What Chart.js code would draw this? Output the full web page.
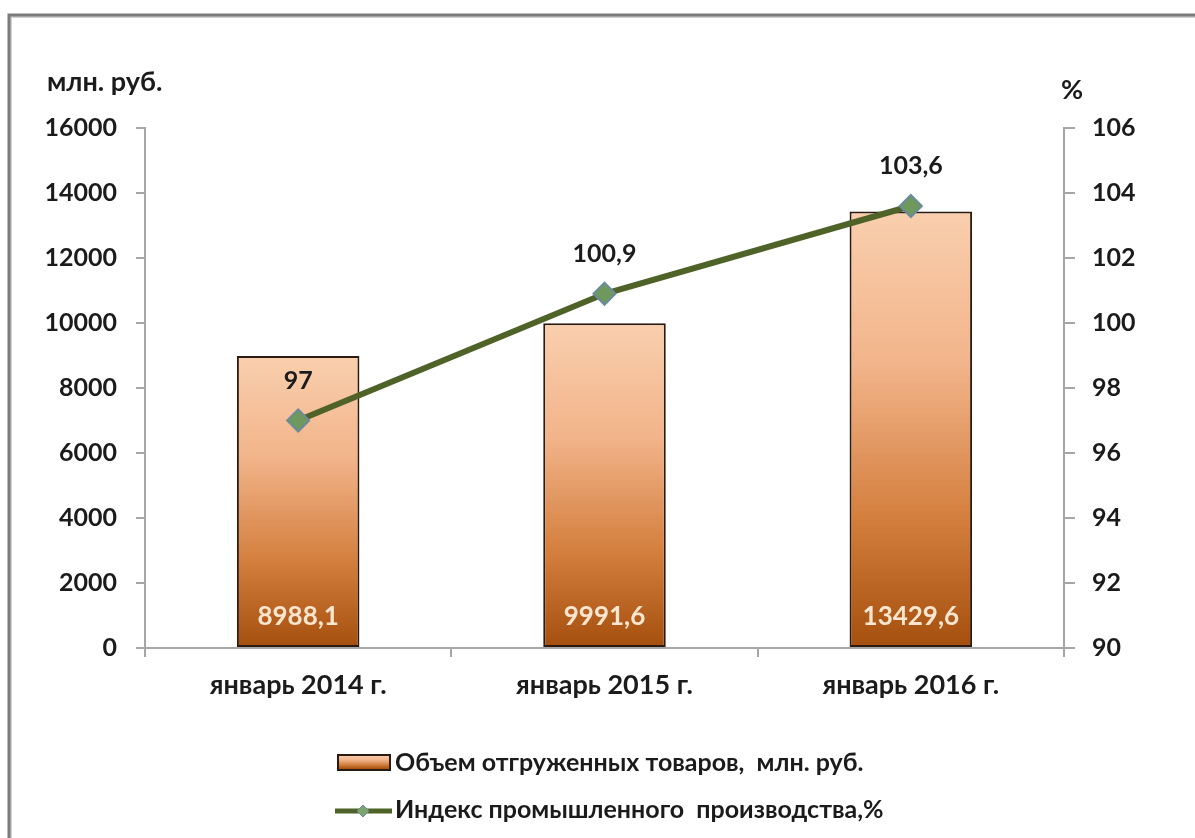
<!DOCTYPE html>
<html lang="ru">
<head>
<meta charset="utf-8">
<script src="https://cdn.jsdelivr.net/npm/chart.js@4.4.1/dist/chart.umd.min.js"></script>
<style>
  html, body { margin: 0; padding: 0; background: #fff; }
  canvas { display: block; }
</style>
</head>
<body>
<canvas id="c" width="1195" height="838"></canvas>
<script>
// Data
const categories = ['январь 2014 г.', 'январь 2015 г.', 'январь 2016 г.'];
const shipments = [8988.1, 9991.6, 13429.6];        // млн. руб.
const productionIndex = [97, 100.9, 103.6];         // %
const seriesNames = ['Объем отгруженных товаров,  млн. руб.', 'Индекс промышленного  производства,%'];
const leftAxisTicks = [0, 2000, 4000, 6000, 8000, 10000, 12000, 14000, 16000];
const rightAxisTicks = [90, 92, 94, 96, 98, 100, 102, 104, 106];
const leftUnit = 'млн. руб.';
const rightUnit = '%';

const FONT = 'Lato, "Open Sans", sans-serif';
const TEXT = '#1b1b1b';
const AXIS = '#a6a6a6';
const LINE_COLOR = '#4f6228';
const MARKER_FILL = '#6f985c';
const MARKER_EDGE = '#6a8b9c';
const BAR_EDGE = '#2b1a10';

const fmt = v => String(v).replace('.', ',');

function barGradient(ctx, top, bottom) {
  const g = ctx.createLinearGradient(0, top, 0, bottom);
  g.addColorStop(0, '#f9cfae');
  g.addColorStop(0.35, '#f2b48a');
  g.addColorStop(0.7, '#d47f3e');
  g.addColorStop(1, '#a44f0e');
  return g;
}

// Frame, unit captions, value labels and legend
const decorations = {
  id: 'decorations',
  beforeDraw(chart) {
    const c = chart.ctx;
    c.save();
    c.fillStyle = '#fff';
    c.fillRect(0, 0, chart.width, chart.height);
    c.strokeStyle = '#d0d0d0';
    c.lineWidth = 2;
    c.beginPath();
    c.moveTo(11, chart.height); c.lineTo(11, 17); c.lineTo(chart.width, 17);
    c.stroke();
    c.strokeStyle = '#7b7b7b';
    c.lineWidth = 3;
    c.beginPath();
    c.moveTo(9, chart.height); c.lineTo(9, 15); c.lineTo(chart.width, 15);
    c.stroke();
    c.restore();
  },
  afterDatasetsDraw(chart) {
    const c = chart.ctx;
    c.save();
    c.textAlign = 'center';
    c.textBaseline = 'middle';
    // bar values inside the bar base
    c.font = 'bold 26px ' + FONT;
    c.fillStyle = '#fce6cf';
    const barMeta = chart.getDatasetMeta(0);
    barMeta.data.forEach((el, i) => {
      c.fillText(fmt(shipments[i]), el.x, el.base - 30);
    });
    // index values above the markers
    c.font = 'bold 25px ' + FONT;
    c.fillStyle = TEXT;
    const lineMeta = chart.getDatasetMeta(1);
    lineMeta.data.forEach((el, i) => {
      c.fillText(fmt(productionIndex[i]), el.x, el.y - 40);
    });
    // unit captions
    const yr = chart.scales.y1;
    c.font = 'bold 27px ' + FONT;
    c.textAlign = 'left';
    c.fillText(leftUnit, 47, 82);
    c.fillText(rightUnit, yr.left - 3, 90);

    // legend
    c.font = 'bold 25px ' + FONT;
    c.textAlign = 'left';
    const lx = 338, ly1 = 762, ly2 = 811;
    c.fillStyle = barGradient(c, ly1 - 7, ly1 + 7);
    c.fillRect(lx, ly1 - 7, 52, 15);
    c.strokeStyle = BAR_EDGE;
    c.lineWidth = 2;
    c.strokeRect(lx, ly1 - 7, 52, 15);
    c.fillStyle = TEXT;
    c.fillText(seriesNames[0], lx + 57, ly1 + 1);

    c.strokeStyle = LINE_COLOR;
    c.lineWidth = 5;
    c.beginPath();
    c.moveTo(lx - 3, ly2); c.lineTo(lx + 54, ly2);
    c.stroke();
    c.fillStyle = '#7ba56a';
    c.strokeStyle = MARKER_EDGE;
    c.lineWidth = 1;
    c.beginPath();
    const mx = lx + 25, r = 6;
    c.moveTo(mx, ly2 - r); c.lineTo(mx + r, ly2); c.lineTo(mx, ly2 + r); c.lineTo(mx - r, ly2);
    c.closePath(); c.fill(); c.stroke();
    c.fillStyle = TEXT;
    c.fillText(seriesNames[1], lx + 57, ly2 - 1);
    c.restore();
  }
};

new Chart(document.getElementById('c'), {
  data: {
    labels: categories,
    datasets: [
      {
        type: 'bar',
        label: seriesNames[0],
        data: shipments,
        yAxisID: 'y',
        order: 1,
        categoryPercentage: 1,
        barPercentage: 0.4,
        borderColor: BAR_EDGE,
        borderWidth: 2,
        borderSkipped: false,
        backgroundColor: (ctx) => {
          const chart = ctx.chart;
          if (!chart.chartArea || ctx.dataIndex === undefined) return '#e8a070';
          const y = chart.scales.y;
          return barGradient(chart.ctx, y.getPixelForValue(ctx.raw), y.getPixelForValue(0));
        }
      },
      {
        type: 'line',
        label: seriesNames[1],
        data: productionIndex,
        yAxisID: 'y1',
        order: 0,
        borderColor: LINE_COLOR,
        borderWidth: 6,
        tension: 0,
        pointStyle: 'rectRot',
        pointRadius: 11,
        pointBackgroundColor: MARKER_FILL,
        pointBorderColor: MARKER_EDGE,
        pointBorderWidth: 2
      }
    ]
  },
  options: {
    responsive: false,
    animation: false,
    events: [],
    layout: { padding: { top: 128, left: 0, right: 0, bottom: 0 } },
    plugins: { legend: { display: false }, tooltip: { enabled: false } },
    scales: {
      x: {
        offset: true,
        grid: { offset: true, drawOnChartArea: false, drawTicks: true, tickLength: 9, color: AXIS, lineWidth: 2 },
        border: { display: true, color: AXIS, width: 2 },
        ticks: { color: TEXT, font: { family: FONT, size: 27, weight: 'bold' }, padding: 12, maxRotation: 0 },
        afterFit(s) { s.height = 190; }
      },
      y: {
        position: 'left',
        min: 0, max: 16000,
        afterBuildTicks(s) { s.ticks = leftAxisTicks.map(v => ({ value: v })); },
        grid: { drawOnChartArea: false, drawTicks: true, tickLength: 9, color: AXIS, lineWidth: 2 },
        border: { display: true, color: AXIS, width: 2 },
        ticks: { color: TEXT, font: { family: FONT, size: 25, weight: 'bold' }, padding: 19, callback: v => String(v) },
        afterFit(s) { s.width = 145; }
      },
      y1: {
        position: 'right',
        min: 90, max: 106,
        afterBuildTicks(s) { s.ticks = rightAxisTicks.map(v => ({ value: v })); },
        grid: { drawOnChartArea: false, drawTicks: true, tickLength: 11, color: AXIS, lineWidth: 2 },
        border: { display: true, color: AXIS, width: 2 },
        ticks: { color: TEXT, font: { family: FONT, size: 25, weight: 'bold' }, padding: 17, callback: v => String(v) },
        afterFit(s) { s.width = 131; }
      }
    }
  },
  plugins: [decorations]
});
</script>
</body>
</html>
